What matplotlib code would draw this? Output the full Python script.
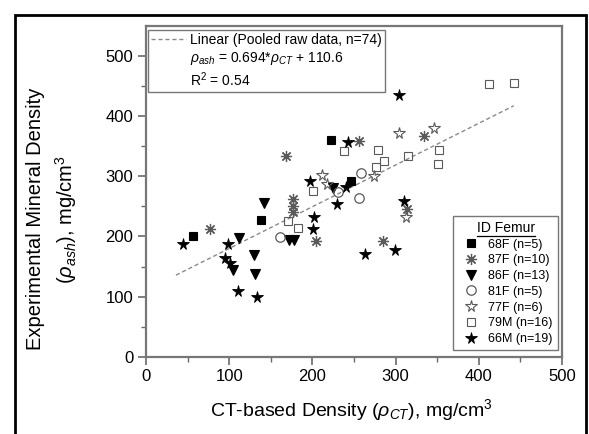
import matplotlib
matplotlib.use("Agg")
import matplotlib.pyplot as plt
from matplotlib.lines import Line2D
from matplotlib.patches import Rectangle
import numpy as np

plt.rcParams['font.family'] = ['Liberation Sans', 'DejaVu Sans']
plt.rcParams['mathtext.fontset'] = 'custom'
plt.rcParams['mathtext.rm'] = 'Liberation Sans'
plt.rcParams['mathtext.it'] = 'Liberation Sans:italic'

# ---- data ----
f68_x = [56, 138, 222.5, 246]
f68_y = [201, 228, 360, 292]

f87_x = [77, 168, 176.5, 176.5, 176.5, 204.5, 256, 284.7, 313.6, 334]
f87_y = [213, 333, 262, 250, 241, 193, 359, 193, 245, 367]

f86_x = [111.5, 104, 130, 131, 141.6, 172, 178, 225]
f86_y = [197, 145, 169, 137.5, 255.6, 194, 194, 280]

f81_x = [161, 231, 259, 256.5]
f81_y = [198.6, 273.5, 305.5, 264.5]

f77_x = [211, 217, 273.5, 304, 345.6, 312]
f77_y = [302.5, 287, 300.5, 372.5, 380, 232]

m79_x = [171, 183, 201, 237.5, 279, 285.5, 276, 314.5, 351.6, 351, 412, 442]
m79_y = [225, 214, 275, 342, 344, 326, 315, 333, 344, 320.5, 453, 456]

m66_x = [44, 98, 95, 101.5, 110, 133, 197, 201.5, 200.5, 229, 240.5, 243, 304, 309.5, 299.5, 263]
m66_y = [187, 187, 163.6, 156, 110, 100, 293, 233, 213, 254.5, 283, 357, 435, 259, 177.5, 171]

fit_slope = 0.694
fit_intercept = 110.6
fit_x = [36, 442]

series_labels = ['68F (n=5)', '87F (n=10)', '86F (n=13)', '81F (n=5)',
                 '77F (n=6)', '79M (n=16)', '66M (n=19)']

W, H = 589, 434
fig = plt.figure(figsize=(W / 100, H / 100), dpi=100)
ax = fig.add_axes([146 / W, 1 - 356.7 / H, (562 - 146) / W, (356.7 - 26) / H])

# outer frame
fig.patches.append(Rectangle((15 / W, -0.1), (586 - 15) / W, (1 - 15 / H) + 0.1,
                             transform=fig.transFigure, fill=False,
                             edgecolor='black', linewidth=2))

gray = '#5a5a5a'
fx = np.array(fit_x, dtype=float)
fit_line, = ax.plot(fx, fit_slope * fx + fit_intercept, color='#8a8a8a',
                    linestyle=(0, (3, 2)), linewidth=1.0, zorder=1)

styles = [
    dict(marker='s', ms=5.5, mfc='black', mec='black', mew=0.8),
    dict(marker=(8, 2, 0), ms=8, mfc='none', mec=gray, mew=0.9),
    dict(marker='v', ms=7.5, mfc='black', mec='black', mew=0.8),
    dict(marker='o', ms=6.8, mfc='none', mec=gray, mew=0.9),
    dict(marker='*', ms=8.5, mfc='none', mec=gray, mew=0.8),
    dict(marker='s', ms=5.5, mfc='none', mec=gray, mew=0.8),
    dict(marker='*', ms=8.5, mfc='black', mec='black', mew=0.6),
]
data = [(f68_x, f68_y), (f87_x, f87_y), (f86_x, f86_y), (f81_x, f81_y),
        (f77_x, f77_y), (m79_x, m79_y), (m66_x, m66_y)]
handles = []
for (xs, ys), st, lab in zip(data, styles, series_labels):
    h, = ax.plot(xs, ys, linestyle='none', label=lab, zorder=3, **st)
    handles.append(h)

ax.set_xlim(0, 500)
ax.set_ylim(0, 550)
ax.set_xticks(np.arange(0, 501, 100))
ax.set_yticks(np.arange(0, 501, 100))
ax.set_xticks(np.arange(50, 500, 100), minor=True)
ax.set_yticks(np.arange(50, 550, 100), minor=True)
ax.tick_params(which='major', direction='out', length=6, width=1.2, color='#6a6a6a',
               labelsize=12, pad=3)
ax.tick_params(which='minor', direction='out', length=3.5, width=1.0, color='#6a6a6a')
for sp in ax.spines.values():
    sp.set_color('#777777')
    sp.set_linewidth(1.6)

fig.text(351 / W, 1 - 416 / H, r'CT-based Density ($\rho_{CT}$), mg/cm$^3$',
         ha='center', va='baseline', fontsize=14)
fig.text(36 / W, 1 - 219 / H, 'Experimental Mineral Density',
         rotation=90, ha='center', va='center', fontsize=14.5)
fig.text(66 / W, 1 - 219 / H, r'($\rho_{ash}$), mg/cm$^3$',
         rotation=90, ha='center', va='center', fontsize=14.5)

# fit legend
blank1 = Line2D([], [], linestyle='none')
blank2 = Line2D([], [], linestyle='none')
leg1 = ax.legend([fit_line, blank1, blank2],
                 ['Linear (Pooled raw data, n=74)',
                  r'$\rho_{ash}$ = 0.694*$\rho_{CT}$ + 110.6',
                  r'R$^2$ = 0.54'],
                 loc='upper left', bbox_to_anchor=(0.005, 0.988), borderaxespad=0,
                 fontsize=10, frameon=True, fancybox=False, edgecolor='#777777',
                 framealpha=1, handlelength=2.5, handletextpad=0.35,
                 labelspacing=0.25, borderpad=0.2)
leg1.get_frame().set_linewidth(1.0)
ax.add_artist(leg1)

leg2 = ax.legend(handles=handles, loc='lower right', bbox_to_anchor=(0.99, 0.02),
                 borderaxespad=0, fontsize=9, title='ID Femur', title_fontsize=10,
                 frameon=True, fancybox=False, edgecolor='#777777', framealpha=1,
                 handlelength=2.0, handletextpad=0.4, labelspacing=0.3,
                 borderpad=0.4)
leg2.get_frame().set_linewidth(1.0)

fig.canvas.draw()
r = fig.canvas.get_renderer()
tb = leg2.get_title().get_window_extent(r)
fig.add_artist(Line2D([tb.x0 / W, tb.x1 / W], [(tb.y0 - 1) / H, (tb.y0 - 1) / H],
                      transform=fig.transFigure, color='black', linewidth=0.9))

fig.savefig('out.png', dpi=100)
